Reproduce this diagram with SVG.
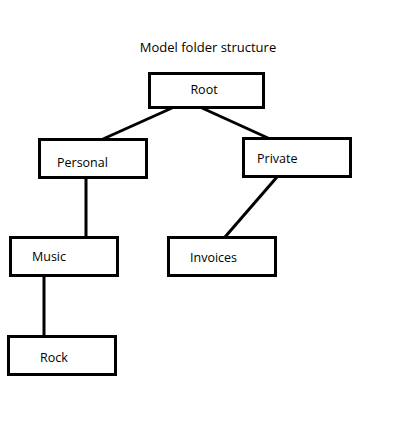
<svg xmlns="http://www.w3.org/2000/svg" width="401" height="429" viewBox="0 0 401 429">
<style>
.box{fill:#fff;stroke:#000;stroke-width:3}
.lbl{font-family:"Open Sans","Liberation Sans",sans-serif;font-size:12.5px;fill:#000}
.edge{stroke:#000;stroke-width:3;fill:none}
</style>
<rect width="401" height="429" fill="#fff"/>
<text class="lbl" x="208" y="52" text-anchor="middle" style="font-size:13px">Model folder structure</text>
<g id="connectors">
<line class="edge" x1="172" y1="108" x2="103" y2="139"/>
<line class="edge" x1="202" y1="108" x2="268" y2="138"/>
<line class="edge" x1="86" y1="178" x2="86" y2="237"/>
<line class="edge" x1="277" y1="177" x2="225" y2="237"/>
<line class="edge" x1="44" y1="276" x2="44" y2="336"/>
</g>
<g id="root"><rect class="box" x="149.5" y="73.5" width="114" height="34"/><text class="lbl" x="204" y="94" text-anchor="middle">Root</text></g>
<g id="personal"><rect class="box" x="39.5" y="139.5" width="107" height="38"/><text class="lbl" x="57" y="167">Personal</text></g>
<g id="private"><rect class="box" x="243.5" y="138.5" width="107" height="38"/><text class="lbl" x="257" y="163">Private</text></g>
<g id="music"><rect class="box" x="10.5" y="237.5" width="107" height="38"/><text class="lbl" x="32" y="261">Music</text></g>
<g id="invoices"><rect class="box" x="168.5" y="237.5" width="107" height="38"/><text class="lbl" x="190" y="262">Invoices</text></g>
<g id="rock"><rect class="box" x="8.5" y="336.5" width="107" height="38"/><text class="lbl" x="40" y="362">Rock</text></g>
</svg>
